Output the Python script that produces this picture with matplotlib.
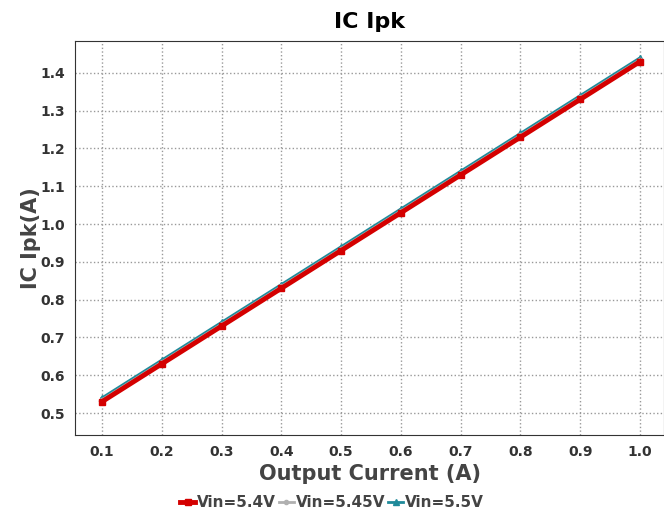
import matplotlib
matplotlib.use("Agg")
import matplotlib.pyplot as plt

corrente = [0.1, 0.2, 0.3, 0.4, 0.5, 0.6, 0.7, 0.8, 0.9, 1.0]
ipk_54 = [0.53, 0.63, 0.73, 0.83, 0.93, 1.03, 1.13, 1.23, 1.33, 1.43]
ipk_545 = [0.535, 0.635, 0.735, 0.835, 0.935, 1.035, 1.135, 1.235, 1.335, 1.435]
ipk_55 = [0.54, 0.64, 0.74, 0.84, 0.94, 1.04, 1.14, 1.24, 1.34, 1.44]
series = ["Vin=5.4V", "Vin=5.45V", "Vin=5.5V"]

fig, ax = plt.subplots(figsize=(6.64, 5.16), dpi=100)
fig.subplots_adjust(left=0.113, right=1.0, top=0.921, bottom=0.157)

ax.plot(corrente, ipk_55, color="#1f8a9a", lw=2, marker="^", ms=4, label=series[2], zorder=3)
ax.plot(corrente, ipk_545, color="#b0b0b0", lw=2, marker="o", ms=3, label=series[1], zorder=4)
ax.plot(corrente, ipk_54, color="#d40000", lw=3.5, marker="s", ms=5, label=series[0], zorder=5)

ax.set_xlim(0.055, 1.04)
ax.set_ylim(0.442, 1.485)
ax.set_xticks(corrente)
ax.set_yticks([0.5, 0.6, 0.7, 0.8, 0.9, 1.0, 1.1, 1.2, 1.3, 1.4])
ax.grid(True, color="#999999", linestyle=":", linewidth=1)
for s in ax.spines.values():
    s.set_color("#333333")
ax.tick_params(labelsize=10, colors="#333333", length=0, pad=7)
for lbl in ax.get_xticklabels() + ax.get_yticklabels():
    lbl.set_fontweight("bold")

ax.set_title("IC Ipk", fontsize=16, fontweight="bold", pad=9)
ax.set_xlabel("Output Current (A)", fontsize=15, fontweight="bold", color="#444444", labelpad=4)
ax.set_ylabel("IC Ipk(A)", fontsize=15, fontweight="bold", color="#444444", labelpad=0)

h, l = ax.get_legend_handles_labels()
order = [2, 1, 0]
leg = fig.legend([h[i] for i in order], [l[i] for i in order], loc="lower center",
                 bbox_to_anchor=(0.5, -0.015), ncol=3, frameon=False,
                 handlelength=1.0, handletextpad=0.1, columnspacing=0.2,
                 prop={"weight": "bold", "size": 11})
for t in leg.get_texts():
    t.set_color("#444444")

fig.savefig("out.png", dpi=100)
